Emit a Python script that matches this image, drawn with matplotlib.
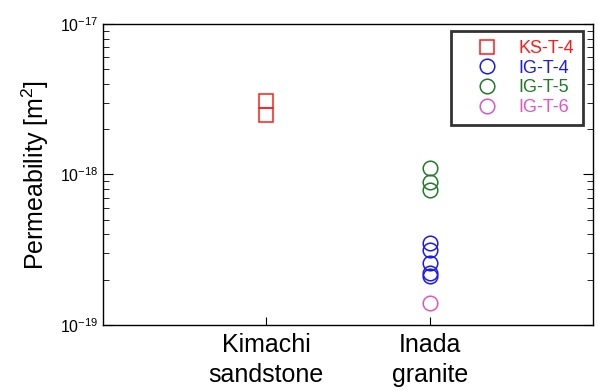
import matplotlib.pyplot as plt
from matplotlib.lines import Line2D
from matplotlib.ticker import NullFormatter

plt.rcParams['font.family'] = ['Liberation Sans', 'DejaVu Sans']
plt.rcParams['mathtext.fontset'] = 'custom'
plt.rcParams['mathtext.rm'] = 'Liberation Sans'
plt.rcParams['mathtext.it'] = 'Liberation Sans:italic'

rocks = ["Kimachi\nsandstone", "Inada\ngranite"]
rock_pos = [1, 2]

# permeability values [m2]
ks_t4 = [3.08e-18, 2.49e-18]
ig_t4 = [3.5e-19, 3.15e-19, 2.6e-19, 2.22e-19, 2.12e-19]
ig_t5 = [1.1e-18, 8.9e-19, 7.9e-19]
ig_t6 = [1.4e-19]

series = [
    ("KS-T-4", ks_t4, rock_pos[0], "s", "#ff1a1a"),
    ("IG-T-4", ig_t4, rock_pos[1], "o", "#1a1aee"),
    ("IG-T-5", ig_t5, rock_pos[1], "o", "#1f7a2a"),
    ("IG-T-6", ig_t6, rock_pos[1], "o", "#e055c0"),
]

fig = plt.figure(figsize=(5.98, 3.92), dpi=100)
ax = fig.add_axes([0.1722, 0.1709, 0.8194, 0.7679])

handles = []
for name, vals, x, mk, col in series:
    ax.plot([x] * len(vals), vals, linestyle="none", marker=mk, markersize=10.5,
            markerfacecolor="none", markeredgecolor=col, markeredgewidth=1.1)
    handles.append(Line2D([], [], linestyle="none", marker=mk, markersize=10.5,
                          markerfacecolor="none", markeredgecolor=col,
                          markeredgewidth=1.1, label=name))

ax.set_yscale("log")
ax.set_ylim(1e-19, 1e-17)
ax.yaxis.set_minor_formatter(NullFormatter())
ax.set_xlim(0, 3)
ax.set_xticks(rock_pos)
ax.set_xticklabels(rocks, fontsize=18, linespacing=1.3)
ax.set_ylabel("Permeability [m$^2$]", fontsize=18, labelpad=6)

ax.tick_params(axis="y", which="both", direction="in", right=True, labelsize=11.5)
ax.tick_params(axis="y", which="major", length=7)
ax.tick_params(axis="y", which="minor", length=4)
ax.tick_params(axis="x", direction="in", length=6, pad=6)
for s in ax.spines.values():
    s.set_linewidth(1.0)

leg = ax.legend(handles=handles, loc="upper right", bbox_to_anchor=(0.98, 0.977),
                fontsize=13, frameon=True, fancybox=False, edgecolor="black",
                labelcolor=[h.get_markeredgecolor() for h in handles],
                handletextpad=0.22, borderpad=0.5, labelspacing=0.15,
                handlelength=3.0, borderaxespad=0)
leg.get_frame().set_linewidth(2)

fig.savefig("out.png", dpi=100)
